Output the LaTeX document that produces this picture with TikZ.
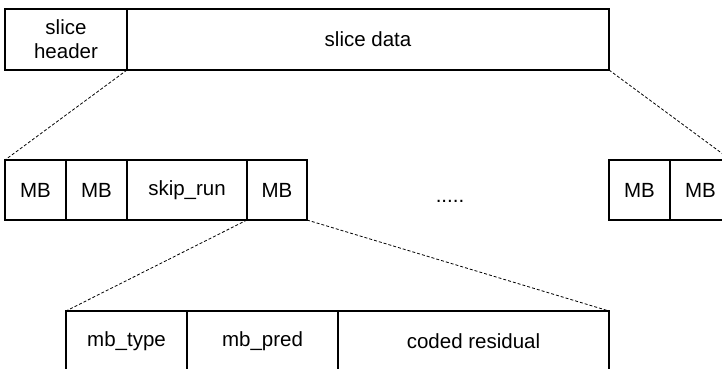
\documentclass[tikz,border=0pt]{standalone}
\usepackage{fontspec}
\setmainfont{Liberation Sans}
\usetikzlibrary{positioning}

\begin{document}
\begin{tikzpicture}[
    x=1pt, y=-1pt,
    fld/.style={draw, line width=1.1pt, rectangle, inner sep=0pt, outer sep=0pt,
                align=center, font=\fontsize{20.5}{24}\selectfont},
    toprow/.style={fld, minimum height=61pt},
    midrow/.style={fld, minimum height=60pt},
    botrow/.style={fld, minimum height=60pt},
    zoomline/.style={dashed, line width=0.8pt, dash pattern=on 3pt off 2pt},
]
    \useasboundingbox (0,0) rectangle (722,369);
    \clip (0,0) rectangle (722,369);

    % slice
    \node[toprow, minimum width=122pt] (hdr) at (66,39.5) {slice\\header};
    \node[toprow, minimum width=482pt, right=0pt of hdr] (data) {slice data};

    % macroblocks
    \node[midrow, minimum width=61pt] (mba) at (35.5,190) {MB};
    \node[midrow, minimum width=61pt, right=0pt of mba] (mbb) {MB};
    \node[midrow, minimum width=120pt, right=0pt of mbb] (skip) {skip\_run};
    \node[midrow, minimum width=60pt, right=0pt of skip] (mbc) {MB};
    \node[font=\fontsize{20.5}{24}\selectfont, anchor=base] (dots) at (450,202) {.....};
    \node[midrow, minimum width=61pt] (mbd) at (639.5,190) {MB};
    \node[midrow, minimum width=61pt, right=0pt of mbd] (mbe) {MB};

    % macroblock syntax
    \node[botrow, minimum width=121pt] (type) at (126.5,341) {mb\_type};
    \node[botrow, minimum width=151pt, right=0pt of type] (pred) {mb\_pred};
    \node[botrow, minimum width=271pt, right=0pt of pred] (resid) {coded residual};

    % zoom lines
    \draw[zoomline] (hdr.south east) -- (mba.north west);
    \draw[zoomline] (data.south east) -- (mbe.north east);
    \draw[zoomline] (mbc.south west) -- (type.north west);
    \draw[zoomline] (mbc.south east) -- (resid.north east);
\end{tikzpicture}
\end{document}
